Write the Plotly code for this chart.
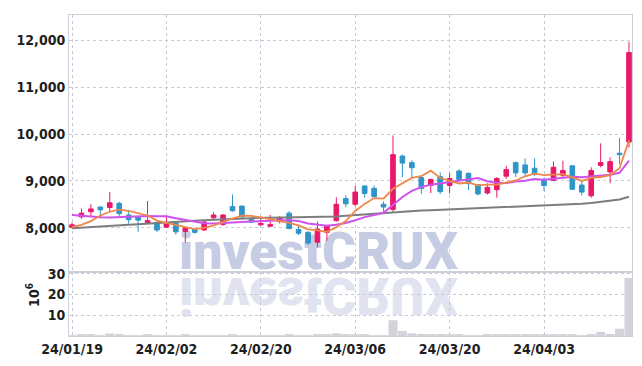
import plotly.graph_objects as go
from plotly.subplots import make_subplots

dates = ["24/01/19", "24/01/22", "24/01/23", "24/01/24", "24/01/25", "24/01/26", "24/01/29", "24/01/30", "24/01/31",
         "24/02/01", "24/02/02", "24/02/05", "24/02/06", "24/02/07", "24/02/08", "24/02/13", "24/02/14", "24/02/15",
         "24/02/16", "24/02/19", "24/02/20", "24/02/21", "24/02/22", "24/02/23", "24/02/26", "24/02/27", "24/02/28",
         "24/02/29", "24/03/04", "24/03/05", "24/03/06", "24/03/07", "24/03/08", "24/03/11", "24/03/12", "24/03/13",
         "24/03/14", "24/03/15", "24/03/18", "24/03/19", "24/03/20", "24/03/21", "24/03/22", "24/03/25", "24/03/26",
         "24/03/27", "24/03/28", "24/03/29", "24/04/01", "24/04/02", "24/04/03", "24/04/04", "24/04/05", "24/04/08",
         "24/04/09", "24/04/11", "24/04/12", "24/04/15", "24/04/16", "24/04/17"]

open_ = [8010, 8230, 8340, 8440, 8430, 8520, 8270, 8230, 8110, 8110, 8010, 8100, 7920, 7960, 7950, 8210, 8070, 8450,
         8460, 8180, 8060, 8030, 8130, 8310, 7960, 7900, 7690, 7900, 8150, 8620, 8500, 8890, 8840, 8500, 8390, 9530,
         9390, 9070, 8900, 9090, 8900, 9210, 9160, 8920, 8740, 8810, 9100, 9390, 9340, 9270, 9020, 9010, 9120, 9320,
         8910, 8680, 9330, 9190, 9590, 9830]
high = [8110, 8410, 8500, 8450, 8760, 8550, 8380, 8240, 8570, 8150, 8240, 8110, 8020, 7980, 8160, 8330, 8290, 8710,
        8470, 8230, 8200, 8270, 8250, 8350, 8040, 7920, 8130, 8060, 8650, 8690, 8890, 8900, 8900, 8560, 9970, 9560,
        9440, 9110, 9050, 9180, 9170, 9250, 9180, 8930, 8950, 9080, 9320, 9410, 9480, 9480, 9060, 9410, 9430, 9330,
        9000, 9290, 9800, 9500, 9920, 11970]
low = [7985, 8190, 8250, 8230, 8330, 8240, 8090, 7910, 8090, 7910, 8000, 7850, 7680, 7870, 7930, 8190, 8040, 8340,
       8180, 8100, 8040, 8020, 8090, 7970, 7840, 7630, 7580, 7720, 8130, 8440, 8450, 8640, 8650, 8330, 8330, 9080,
       9060, 8720, 8740, 8720, 8730, 9000, 8800, 8690, 8710, 8640, 9040, 9080, 9090, 9100, 8780, 8990, 9040, 8810,
       8690, 8640, 9290, 8950, 9360, 9710]
close = [8060, 8310, 8400, 8380, 8530, 8300, 8170, 8160, 8150, 7950, 8080, 7910, 8000, 7900, 8120, 8270, 8270, 8360,
         8230, 8120, 8090, 8070, 8210, 7980, 7880, 7670, 7970, 8040, 8500, 8510, 8760, 8730, 8660, 8440, 9560, 9380,
         9280, 8840, 9030, 8770, 9050, 9030, 8940, 8720, 8860, 9050, 9240, 9170, 9170, 9140, 8900, 9290, 9220, 8820,
         8760, 9220, 9390, 9410, 9560, 11740]

ma_short = [8010, 8060, 8140, 8260, 8340, 8385, 8360, 8310, 8260, 8150, 8100, 8045, 8010, 7968, 7995, 8050, 8130,
            8195, 8255, 8250, 8220, 8180, 8150, 8100, 8050, 7965, 7940, 7910, 8010, 8140, 8356, 8508, 8632, 8620,
            8830, 8954, 9064, 9100, 9218, 9060, 8994, 8944, 8964, 8902, 8920, 8920, 8962, 9008, 9098, 9154, 9124,
            9134, 9144, 9074, 8998, 9062, 9082, 9120, 9268, 9864]
ma_mid = [8268, 8250, 8230, 8220, 8218, 8225, 8235, 8245, 8250, 8241, 8243, 8203, 8163, 8125, 8095, 8090, 8100,
          8120, 8130, 8135, 8140, 8150, 8160, 8160, 8140, 8088, 8058, 8040, 8060, 8100, 8159, 8225, 8270, 8316,
          8484, 8655, 8786, 8866, 8919, 8945, 8974, 9004, 9032, 9060, 8990, 8957, 8953, 8986, 9000, 9037, 9022,
          9048, 9076, 9086, 9076, 9093, 9108, 9132, 9171, 9431]
ma_long = [7985, 7995, 8005, 8015, 8030, 8045, 8060, 8075, 8090, 8105, 8120, 8130, 8140, 8150, 8160, 8170, 8180,
           8190, 8200, 8205, 8210, 8212, 8214, 8216, 8218, 8220, 8224, 8230, 8240, 8255, 8270, 8285, 8300, 8315,
           8330, 8345, 8355, 8365, 8372, 8380, 8388, 8395, 8402, 8410, 8420, 8430, 8440, 8448, 8455, 8462, 8470,
           8478, 8488, 8498, 8510, 8525, 8545, 8570, 8600, 8660]

volume_mn = [0.4, 0.9, 0.5, 0.3, 1.2, 1.0, 0.4, 0.3, 0.8, 0.4, 0.3, 0.3, 0.5, 0.3, 0.3, 0.3, 0.4, 0.9, 0.4, 0.2,
             0.2, 0.3, 0.3, 0.7, 0.3, 0.4, 0.8, 0.5, 1.3, 0.9, 0.6, 0.5, 0.4, 0.3, 7.6, 2.4, 1.3, 1.0, 0.9, 1.0,
             0.9, 0.5, 0.4, 0.4, 0.9, 0.8, 0.9, 0.9, 0.8, 0.6, 0.7, 0.8, 0.5, 0.6, 0.4, 0.5, 2.0, 1.0, 3.5, 28.0]

price_ticks = [8000, 9000, 10000, 11000, 12000]
volume_ticks = [10, 20, 30]
x_tick_labels = [dates[i] for i in range(0, len(dates), 10)]

TICK_FONT = dict(family="Liberation Sans Narrow, DejaVu Sans Condensed, Arial Narrow, sans-serif", size=14,
                 color="#1e1e1e", weight="bold")
GRID = "#c9c9dc"
FRAME = "#cfcfd8"
WM_FONT = "Roboto, DejaVu Sans"

fig = make_subplots(rows=2, cols=1, shared_xaxes=True, vertical_spacing=0.0, row_heights=[0.801, 0.199])

fig.add_trace(go.Candlestick(
    x=dates, open=open_, high=high, low=low, close=close,
    increasing=dict(line=dict(color="#E8196A", width=1), fillcolor="#E8196A"),
    decreasing=dict(line=dict(color="#2E95C8", width=1), fillcolor="#2E95C8"),
    showlegend=False, hoverinfo="skip"), row=1, col=1)

fig.add_trace(go.Scatter(x=dates, y=ma_long, mode="lines", line=dict(color="#7d7d7d", width=2),
                         showlegend=False, hoverinfo="skip"), row=1, col=1)
fig.add_trace(go.Scatter(x=dates, y=ma_mid, mode="lines", line=dict(color="#CF52EE", width=2),
                         showlegend=False, hoverinfo="skip"), row=1, col=1)
fig.add_trace(go.Scatter(x=dates, y=ma_short, mode="lines", line=dict(color="#F0874A", width=1.8),
                         showlegend=False, hoverinfo="skip"), row=1, col=1)

fig.add_trace(go.Bar(x=dates, y=volume_mn, marker=dict(color="#d3d3da", line=dict(width=0)),
                     showlegend=False, hoverinfo="skip"), row=2, col=1)

axis_common = dict(showline=True, mirror=True, linecolor=FRAME, linewidth=1,
                   showgrid=True, gridcolor=GRID, griddash="dot", gridwidth=1, zeroline=False, ticks="")

fig.update_xaxes(type="category", range=[-0.32, 59.32], tickmode="array", tickvals=x_tick_labels,
                 ticktext=x_tick_labels, rangeslider=dict(visible=False), tickfont=TICK_FONT, **axis_common)
fig.update_xaxes(showticklabels=False, row=1, col=1)
fig.update_xaxes(showticklabels=True, row=2, col=1)

fig.update_yaxes(range=[7050, 12543], tickmode="array", tickvals=price_ticks, tickformat=",",
                 tickfont=TICK_FONT, row=1, col=1, **axis_common)
fig.update_yaxes(range=[0, 30.8], tickmode="array", tickvals=volume_ticks,
                 tickfont=TICK_FONT, row=2, col=1, **axis_common)

fig.add_annotation(text="investCRUX", xref="paper", yref="paper", x=0.444, y=0.262, xanchor="center",
                   yanchor="middle", showarrow=False,
                   font=dict(family=WM_FONT, size=52, weight=900, color="#c6cce3"))
fig.add_annotation(text="investCRUX", xref="paper", yref="paper", x=0.444, y=0.126, xanchor="center",
                   yanchor="middle", showarrow=False,
                   font=dict(family=WM_FONT, size=52, weight=900, color="#e1e4f0"))
fig.add_annotation(text="10<sup>6</sup>", xref="paper", yref="paper", x=-0.064, y=0.128, xanchor="center",
                   yanchor="middle", showarrow=False, textangle=-90, font=TICK_FONT)

fig.update_layout(width=642, height=366, margin=dict(l=69, r=10, t=9, b=28),
                  paper_bgcolor="white", plot_bgcolor="rgba(0,0,0,0)", bargap=0.04)

post = """
try {
  var gd = document.getElementById('{plot_id}');
  var below = gd.querySelector('.layer-below');
  var t = gd.querySelector('g.annotation[data-index="1"] text.annotation-text');
  if (t) {
    var b = t.getBBox();
    var cy = b.y + b.height / 2;
    t.setAttribute('transform', 'translate(0,' + (2 * cy) + ') scale(1,-1)');
  }
  if (below) {
    ['0', '1'].forEach(function (i) {
      var a = gd.querySelector('.infolayer g.annotation[data-index="' + i + '"]');
      if (a) { below.appendChild(a); }
    });
  }
} catch (e) {}
"""

fig.write_html("out.html", post_script=post)
